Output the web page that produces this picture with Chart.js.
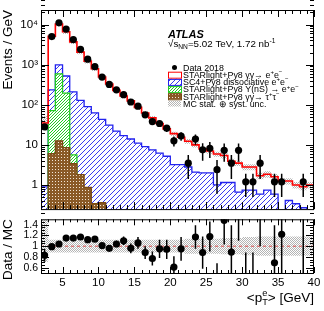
<!DOCTYPE html>
<html>
<head>
<meta charset="utf-8">
<script src="https://cdn.jsdelivr.net/npm/chart.js@4.4.1/dist/chart.umd.min.js"></script>
<style>
    html, body { margin: 0; padding: 0; background: #fff; }
    #wrap { position: relative; width: 324px; height: 311px; overflow: hidden; }
    #mainCanvas { position: absolute; left: 0; top: 0; }
    #ratioCanvas { position: absolute; left: 0; top: 210px; }
</style>
</head>
<body>
<div id="wrap">
    <canvas id="mainCanvas" width="324" height="219"></canvas>
    <canvas id="ratioCanvas" width="324" height="101"></canvas>
</div>
<script>
// ===================================================
// DATA (1 GeV bins from 2 to 40)
// ===================================================
const binEdges = [2, 3, 4, 5, 6, 7, 8, 9, 10, 11, 12, 13, 14, 15, 16, 17, 18, 19, 20, 21,
    22, 23, 24, 25, 26, 27, 28, 29, 30, 31, 32, 33, 34, 35, 36, 37, 38, 39, 40];
const binCenters = [2.5, 3.5, 4.5, 5.5, 6.5, 7.5, 8.5, 9.5, 10.5, 11.5, 12.5, 13.5, 14.5, 15.5,
    16.5, 17.5, 18.5, 19.5, 20.5, 21.5, 22.5, 23.5, 24.5, 25.5, 26.5, 27.5, 28.5, 29.5, 30.5,
    31.5, 32.5, 33.5, 34.5, 35.5, 36.5, 37.5, 38.5, 39.5];

// Data 2018 (events / GeV) and its error
const dataVals = [28, 5000, 11000, 7700, 4200, 2400, 1370, 890, 490, 320, 235, 178, 117, 92,
    56, 38, 34, 26, 12.6, 16.6, 3.5, 14, 7.5, 8.2, 2.4, 7.3, 3.5, 7.3, 1.2, 1.2, 3.5, null,
    1.2, 1.2, null, null, 1.2, null];
const dataErr = [4, 70, 100, 90, 65, 50, 37, 30, 22, 18, 15, 13, 11, 9.5, 7.5, 6, 5.8, 5,
    3.5, 4, 2.1, 4, 3.5, 3.5, 1.8, 3.5, 2.1, 3.5, 0.7, 0.7, 2.1, null, 0.7, 0.7, null, null,
    0.7, null];

// stacked MC (top of each stack level)
const mcTotal = [35, 5100, 10300, 6600, 3700, 2050, 1220, 790, 490, 330, 228, 165, 125, 86,
    62, 47, 34, 25, 19, 15.5, 12.3, 10, 7.9, 7.0, 5.9, 5.4, 3.9, 3.5, 2.8, 2.8, 1.7, 1.85,
    1.6, 1.25, 1.25, 1.0, 0.9, 1.0];
const dissocStack = [0.9, 235, 980, 520, 210, 128, 90, 63, 43, 31, 22, 17, 14, 11, 9, 7.5,
    6.2, 5.2, 3.2, 3.2, 2.8, 2.1, 2.0, 2.0, 1.0, 1.15, 1.15, 0.66, 0.74, 0.74, 0.59, 0.74,
    0.59, 0, 0.41, 0.34, 0.27, 0];
const upsilonStack = [0, 71, 590, 195, 5.6, 0, 0, 0, 0, 0, 0, 0, 0, 0, 0, 0, 0, 0, 0, 0,
    0, 0, 0, 0, 0, 0, 0, 0, 0, 0, 0, 0, 0, 0, 0, 0, 0, 0];
const tautauVals = [0, 6, 12.6, 8.5, 3.4, 1.8, 0.87, 0.34, 0.36, 0, 0, 0, 0, 0, 0, 0, 0, 0,
    0, 0, 0, 0, 0, 0, 0, 0, 0, 0, 0, 0, 0, 0, 0, 0, 0, 0, 0, 0];

// MC stat. + syst. band, relative to MC
const uncLo = [0.71, 0.88, 0.88, 0.88, 0.88, 0.88, 0.88, 0.88, 0.88, 0.88, 0.88, 0.88, 0.88,
    0.88, 0.88, 0.88, 0.88, 0.88, 0.88, 0.88, 0.86, 0.86, 0.86, 0.86, 0.86, 0.85, 0.85, 0.85,
    0.83, 0.83, 0.82, 0.82, 0.82, 0.82, 0.82, 0.82, 0.82, 0.82];
const uncHi = [1.5, 1.12, 1.12, 1.12, 1.12, 1.12, 1.12, 1.12, 1.12, 1.12, 1.12, 1.12, 1.12,
    1.12, 1.12, 1.12, 1.12, 1.12, 1.12, 1.12, 1.14, 1.14, 1.14, 1.14, 1.14, 1.15, 1.15, 1.15,
    1.17, 1.17, 1.18, 1.18, 1.18, 1.18, 1.18, 1.18, 1.18, 1.18];

// Data / MC
const ratioVals = [0.83, 0.99, 1.04, 1.15, 1.15, 1.17, 1.12, 1.13, 1.01, 0.96, 1.04, 1.10,
    0.96, 1.06, 0.88, 0.77, 0.95, 0.94, 0.61, 0.95, 0.3, 1.17, 0.88, 1.18, 0.41, 1.48, 0.89,
    2.1, 0.43, 0.43, 2.0, null, 0.69, 1.22, null, null, 1.6, null];
const ratioErr = [0.12, 0.02, 0.01, 0.02, 0.02, 0.02, 0.03, 0.03, 0.04, 0.05, 0.06, 0.08,
    0.09, 0.11, 0.12, 0.13, 0.17, 0.18, 0.2, 0.22, 0.18, 0.22, 0.3, 0.28, 0.27, 0.45, 0.5,
    1.0, 0.45, 0.45, 1.0, null, 0.7, 0.9, null, null, 1.3, null];

// axis ticks
const xTicks = [5, 10, 15, 20, 25, 30, 35, 40];
const yMainTicks = [1, 10, 100, 1000, 10000];
const yMainLabels = ['1', '10', '10²', '10³', '10⁴'];
const ratioTicks = [0.6, 0.8, 1, 1.2, 1.4];
const ratioLabels = ['0.6', '0.8', '1', '1.2', '1.4'];

const FONT = '"Liberation Sans", Arial, Helvetica, sans-serif';
const FLOOR = 1e-3; // empty bins, below the axis

// ===================================================
// HELPERS
// ===================================================
function steps(vals) {
    const last = binEdges.length - 1;
    const pts = [{ x: binEdges[0], y: FLOOR }];
    vals.forEach((v, i) => pts.push({ x: binEdges[i], y: v > 0 ? v : FLOOR }));
    const lv = vals[vals.length - 1];
    pts.push({ x: binEdges[last], y: lv > 0 ? lv : FLOOR });
    pts.push({ x: binEdges[last], y: FLOOR });
    return pts;
}

function makePattern(w, h, draw) {
    const c = document.createElement('canvas');
    c.width = w; c.height = h;
    const g = c.getContext('2d');
    draw(g, w, h);
    return g.createPattern(c, 'repeat');
}

function hatch(size, color, width) {
    return makePattern(size, size, (g, w, h) => {
        g.fillStyle = '#fff';
        g.fillRect(0, 0, w, h);
        g.strokeStyle = color;
        g.lineWidth = width;
        g.beginPath();
        g.moveTo(-1, h + 1); g.lineTo(w + 1, -1);
        g.moveTo(-1, 1); g.lineTo(1, -1);
        g.moveTo(w - 1, h + 1); g.lineTo(w + 1, h - 1);
        g.stroke();
    });
}

const bluePattern = hatch(5, '#3a3af0', 1);
const greenPattern = hatch(3, '#22cc22', 1);
const brownPattern = makePattern(3, 3, (g) => {
    g.fillStyle = '#8a5a26';
    g.fillRect(0, 0, 3, 3);
    g.fillStyle = '#f2e6d6';
    g.fillRect(1, 1, 1, 1);
});
const greyPattern = makePattern(2, 2, (g) => {
    g.fillStyle = '#b4b4b4';
    g.fillRect(0, 0, 1, 1);
    g.fillRect(1, 1, 1, 1);
});

// text with super/subscripts: parts = [text, mode] mode 0 normal, 1 sup, -1 sub, 2 stacked {sup, sub}
function drawRich(ctx, x, y, parts, size, align) {
    const small = size * 0.68;
    const widths = parts.map(p => {
        if (p[1] === 2) {
            ctx.font = `${small}px ${FONT}`;
            return Math.max(ctx.measureText(p[0].sup).width, ctx.measureText(p[0].sub).width);
        }
        ctx.font = `${p[1] === 0 ? size : small}px ${FONT}`;
        return ctx.measureText(p[0]).width;
    });
    const total = widths.reduce((a, b) => a + b, 0);
    let cx = align === 'right' ? x - total : x;
    ctx.textAlign = 'left';
    ctx.textBaseline = 'alphabetic';
    parts.forEach((p, i) => {
        if (p[1] === 0) {
            ctx.font = `${size}px ${FONT}`;
            ctx.fillText(p[0], cx, y);
        } else if (p[1] === 1) {
            ctx.font = `${small}px ${FONT}`;
            ctx.fillText(p[0], cx, y - size * 0.42);
        } else if (p[1] === -1) {
            ctx.font = `${small}px ${FONT}`;
            ctx.fillText(p[0], cx, y + size * 0.22);
        } else {
            ctx.font = `${small}px ${FONT}`;
            ctx.fillText(p[0].sup, cx, y - size * 0.42);
            ctx.fillText(p[0].sub, cx, y + size * 0.25);
        }
        cx += widths[i];
    });
}

// ===================================================
// PLUGINS
// ===================================================
// inward ROOT-style ticks on all four sides plus frame
const frameTicks = {
    id: 'frameTicks',
    afterDatasetsDraw(chart, args, o) {
        const { ctx, chartArea: a, scales: { x, y } } = chart;
        ctx.save();
        ctx.strokeStyle = '#000';
        ctx.lineWidth = 1;
        ctx.beginPath();
        const xt = (v, len) => {
            const p = Math.round(x.getPixelForValue(v)) + 0.5;
            ctx.moveTo(p, a.bottom); ctx.lineTo(p, a.bottom - len);
            ctx.moveTo(p, a.top); ctx.lineTo(p, a.top + len);
        };
        const yt = (v, len) => {
            const p = Math.round(y.getPixelForValue(v)) + 0.5;
            ctx.moveTo(a.left, p); ctx.lineTo(a.left + len, p);
            ctx.moveTo(a.right, p); ctx.lineTo(a.right - len, p);
        };
        o.xMinor.forEach(v => xt(v, o.xMinLen));
        o.xMajor.forEach(v => xt(v, o.xMajLen));
        o.yMinor.forEach(v => yt(v, o.yMinLen));
        o.yMajor.forEach(v => yt(v, o.yMajLen));
        ctx.stroke();
        ctx.strokeRect(a.left + 0.5, a.top + 0.5, a.right - a.left - 1, a.bottom - a.top);
        ctx.restore();
    }
};

// vertical error bars on the data points
const errorBars = {
    id: 'errorBars',
    afterDatasetsDraw(chart, args, o) {
        const { ctx, chartArea: a, scales: { x, y } } = chart;
        ctx.save();
        ctx.beginPath();
        ctx.rect(a.left, a.top, a.right - a.left, a.bottom - a.top);
        ctx.clip();
        ctx.strokeStyle = '#000';
        ctx.lineWidth = 1.5;
        ctx.beginPath();
        o.vals.forEach((v, i) => {
            if (v == null) return;
            const e = o.errs[i];
            const px = x.getPixelForValue(binCenters[i]);
            const lo = v - e;
            const yLo = lo > 0 ? y.getPixelForValue(lo) : a.bottom + 5;
            const yHi = y.getPixelForValue(v + e);
            ctx.moveTo(px, Math.min(yLo, a.bottom + 5));
            ctx.lineTo(px, Math.max(yHi, a.top - 5));
        });
        ctx.stroke();
        ctx.restore();
    }
};

const legendItems = [
    { kind: 'dot', parts: [['Data 2018', 0]] },
    { kind: 'box', fill: '#fff', stroke: '#ff0000', parts: [['STARlight+Py8 γγ→ e', 0], ['+', 1], ['e', 0], ['−', 1]] },
    { kind: 'box', fill: bluePattern, stroke: '#2222ee', parts: [['SC4+Py8 dissociative e', 0], ['+', 1], ['e', 0], ['−', 1]] },
    { kind: 'box', fill: greenPattern, stroke: '#22cc22', parts: [['STARlight+Py8 Υ(nS) → e', 0], ['+', 1], ['e', 0], ['−', 1]] },
    { kind: 'box', fill: brownPattern, stroke: '#7a4a12', parts: [['STARlight+Py8 γγ→ τ', 0], ['+', 1], ['τ', 0], ['−', 1]] },
    { kind: 'box', fill: greyPattern, stroke: null, parts: [['MC stat. ⊕ syst. unc.', 0]] }
];

const mainText = {
    id: 'mainText',
    afterDraw(chart) {
        const ctx = chart.ctx;
        ctx.save();
        ctx.fillStyle = '#000';
        ctx.font = `italic bold 11px ${FONT}`;
        ctx.textAlign = 'left';
        ctx.textBaseline = 'alphabetic';
        ctx.fillText('ATLAS', 168, 37.5);
        drawRich(ctx, 168, 47, [['√s', 0], ['NN', -1], ['=5.02 TeV, 1.72 nb', 0], ['-1', 1]], 9.8, 'left');

        legendItems.forEach((it, i) => {
            const cy = 67.5 + i * 7.2;
            if (it.kind === 'dot') {
                ctx.fillStyle = '#000';
                ctx.beginPath();
                ctx.arc(174.5, cy, 2.5, 0, Math.PI * 2);
                ctx.fill();
            } else {
                ctx.fillStyle = it.fill;
                ctx.fillRect(168, cy - 3, 13, 6);
                if (it.stroke) {
                    ctx.strokeStyle = it.stroke;
                    ctx.lineWidth = 1;
                    ctx.strokeRect(168.5, cy - 2.5, 13, 6);
                }
            }
            ctx.fillStyle = '#000';
            drawRich(ctx, 183, cy + 3.2, it.parts, 8.9, 'left');
        });
        ctx.restore();
    }
};

const ratioText = {
    id: 'ratioText',
    afterDraw(chart) {
        const ctx = chart.ctx;
        ctx.save();
        ctx.fillStyle = '#000';
        drawRich(ctx, 314, 91.5, [['<p', 0], [{ sup: 'e', sub: 'T' }, 2], ['> [GeV]', 0]], 13.5, 'right');
        ctx.restore();
    }
};

// tick lists for the frame
const xMinorTicks = binEdges.slice();
const yMinorTicks = [];
[0.1, 1, 10, 100, 1000, 10000].forEach(d => {
    for (let k = 2; k <= 9; k++) yMinorTicks.push(d * k);
});
const ratioMinor = [0.55, 0.65, 0.7, 0.75, 0.85, 0.9, 0.95, 1.05, 1.1, 1.15, 1.25, 1.3, 1.35, 1.45];

// ===================================================
// MAIN PANEL
// ===================================================
const mainChart = new Chart(document.getElementById('mainCanvas'), {
    type: 'line',
    data: {
        datasets: [
            {
                label: 'Data 2018',
                data: binCenters.map((c, i) => ({ x: c, y: dataVals[i] })),
                showLine: false,
                pointRadius: 3.6,
                pointBackgroundColor: '#000',
                pointBorderWidth: 0
            },
            {
                label: 'STARlight+Py8 ee',
                data: steps(mcTotal),
                stepped: 'before',
                borderColor: '#ff0000',
                borderWidth: 1.6,
                pointRadius: 0,
                fill: false,
                clip: 0
            },
            {
                label: 'unc hi',
                data: steps(mcTotal.map((v, i) => v * uncHi[i])),
                stepped: 'before',
                borderWidth: 0,
                pointRadius: 0,
                backgroundColor: greyPattern,
                fill: '+1',
                clip: 0
            },
            {
                label: 'unc lo',
                data: steps(mcTotal.map((v, i) => v * uncLo[i])),
                stepped: 'before',
                borderWidth: 0,
                pointRadius: 0,
                fill: false,
                clip: 0
            },
            {
                label: 'tautau',
                data: steps(tautauVals),
                stepped: 'before',
                borderColor: '#7a4a12',
                borderWidth: 1.3,
                backgroundColor: brownPattern,
                pointRadius: 0,
                fill: 'start',
                clip: 0
            },
            {
                label: 'upsilon',
                data: steps(upsilonStack),
                stepped: 'before',
                borderColor: '#22cc22',
                borderWidth: 1.3,
                backgroundColor: greenPattern,
                pointRadius: 0,
                fill: 'start',
                clip: 0
            },
            {
                label: 'dissociative',
                data: steps(dissocStack),
                stepped: 'before',
                borderColor: '#2222ee',
                borderWidth: 1.3,
                backgroundColor: bluePattern,
                pointRadius: 0,
                fill: 'start',
                clip: 0
            }
        ]
    },
    options: {
        responsive: false,
        animation: false,
        devicePixelRatio: 1,
        layout: { padding: { left: 0, right: 10, top: 10, bottom: 1 } },
        plugins: {
            legend: { display: false },
            tooltip: { enabled: false },
            errorBars: { vals: dataVals, errs: dataErr },
            frameTicks: {
                xMajor: xTicks, xMinor: xMinorTicks, xMajLen: 7, xMinLen: 4,
                yMajor: yMainTicks, yMinor: yMinorTicks, yMajLen: 8, yMinLen: 4
            }
        },
        scales: {
            x: {
                type: 'linear', min: 2, max: 40,
                ticks: { display: false },
                grid: { display: false, drawTicks: false },
                border: { display: false },
                afterFit(s) { s.height = 0; }
            },
            y: {
                type: 'logarithmic', min: 0.25, max: 23000,
                grid: { display: false, drawTicks: false },
                border: { display: false },
                afterBuildTicks(s) { s.ticks = yMainTicks.map(v => ({ value: v })); },
                ticks: {
                    autoSkip: false,
                    padding: 3,
                    color: '#000',
                    font: { family: FONT, size: 11.5 },
                    callback: (v) => {
                        const i = yMainTicks.indexOf(v);
                        return i >= 0 ? yMainLabels[i] : '';
                    }
                },
                title: {
                    display: true, text: 'Events / GeV', align: 'end', color: '#000',
                    font: { family: FONT, size: 13.5 }, padding: { top: 0, bottom: 0 }
                },
                afterFit(s) { s.width = 41; }
            }
        }
    },
    plugins: [errorBars, frameTicks, mainText]
});

// ===================================================
// RATIO PANEL
// ===================================================
const ratioChart = new Chart(document.getElementById('ratioCanvas'), {
    type: 'line',
    data: {
        datasets: [
            {
                label: 'Data / MC',
                data: binCenters.map((c, i) => ({ x: c, y: ratioVals[i] })),
                showLine: false,
                pointRadius: 3.6,
                pointBackgroundColor: '#000',
                pointBorderWidth: 0
            },
            {
                label: 'unity',
                data: [{ x: 2, y: 1 }, { x: 40, y: 1 }],
                borderColor: '#e03030',
                borderWidth: 0.8,
                borderDash: [3, 3],
                pointRadius: 0,
                fill: false
            },
            {
                label: 'band hi',
                data: steps(uncHi),
                stepped: 'before',
                borderWidth: 0,
                pointRadius: 0,
                backgroundColor: greyPattern,
                fill: '+1',
                clip: 0
            },
            {
                label: 'band lo',
                data: steps(uncLo),
                stepped: 'before',
                borderWidth: 0,
                pointRadius: 0,
                fill: false,
                clip: 0
            }
        ]
    },
    options: {
        responsive: false,
        animation: false,
        devicePixelRatio: 1,
        layout: { padding: { left: 0, right: 10, top: 8, bottom: 0 } },
        plugins: {
            legend: { display: false },
            tooltip: { enabled: false },
            errorBars: { vals: ratioVals, errs: ratioErr },
            frameTicks: {
                xMajor: xTicks, xMinor: xMinorTicks, xMajLen: 6, xMinLen: 3,
                yMajor: ratioTicks, yMinor: ratioMinor, yMajLen: 8, yMinLen: 4
            }
        },
        scales: {
            x: {
                type: 'linear', min: 2, max: 40,
                grid: { display: false, drawTicks: false },
                border: { display: false },
                afterBuildTicks(s) { s.ticks = xTicks.map(v => ({ value: v })); },
                ticks: {
                    autoSkip: false, maxRotation: 0, padding: 3, color: '#000',
                    font: { family: FONT, size: 11.5 }
                },
                afterFit(s) { s.height = 38; }
            },
            y: {
                type: 'linear', min: 0.5, max: 1.5,
                grid: { display: false, drawTicks: false },
                border: { display: false },
                afterBuildTicks(s) { s.ticks = ratioTicks.map(v => ({ value: v })); },
                ticks: {
                    autoSkip: false, padding: 3, color: '#000',
                    font: { family: FONT, size: 10.5 },
                    callback: (v) => {
                        const i = ratioTicks.indexOf(v);
                        return i >= 0 ? ratioLabels[i] : '';
                    }
                },
                title: {
                    display: true, text: 'Data / MC', align: 'end', color: '#000',
                    font: { family: FONT, size: 13.5 }, padding: { top: 0, bottom: 0 }
                },
                afterFit(s) { s.width = 41; }
            }
        }
    },
    plugins: [errorBars, frameTicks, ratioText]
});
</script>
</body>
</html>
